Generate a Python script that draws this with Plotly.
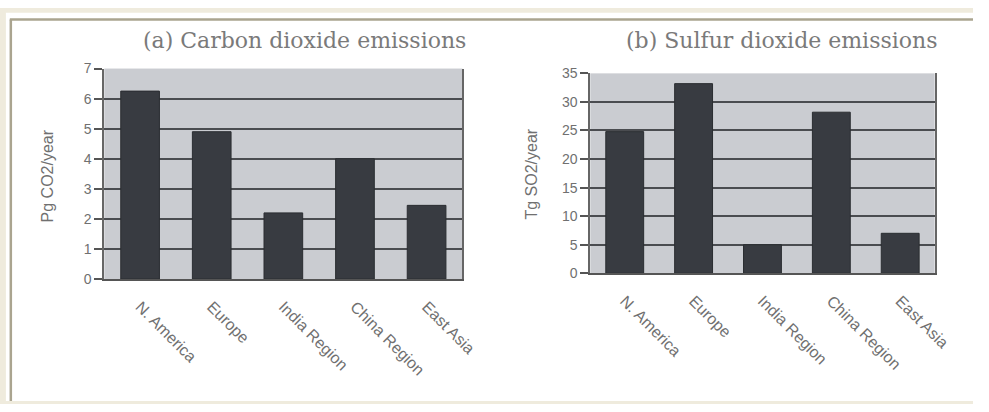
import plotly.graph_objects as go

W, H = 989, 412

regions = ["N. America", "Europe", "India Region", "China Region", "East Asia"]
co2_values = [6.25, 4.9, 2.2, 4.0, 2.45]
so2_values = [24.8, 33.2, 5.0, 28.2, 7.0]
co2_ticks = [0, 1, 2, 3, 4, 5, 6, 7]
so2_ticks = [0, 5, 10, 15, 20, 25, 30, 35]

title_a = "(a) Carbon dioxide emissions"
title_b = "(b) Sulfur dioxide emissions"
ytitle_a = "Pg CO2/year"
ytitle_b = "Tg SO2/year"

BAR = "#383b41"
PLOTBG = "#caccd1"
GRID = "#4a4c50"
TXT = "#707070"
BEIGE = "#efebdd"
KHAKI = "#aaa48f"


def px_x(v):
    return v / W


def px_y(v):
    return 1 - v / H


fig = go.Figure()
fig.add_trace(go.Bar(x=regions, y=co2_values, xaxis="x", yaxis="y",
                     marker=dict(color=BAR, line=dict(color="#2a2d31", width=1)),
                     width=0.54, showlegend=False))
fig.add_trace(go.Bar(x=regions, y=so2_values, xaxis="x2", yaxis="y2",
                     marker=dict(color=BAR, line=dict(color="#2a2d31", width=1)),
                     width=0.55, showlegend=False))

xcommon = dict(type="category", range=[-0.5, 4.5], tickangle=45,
               tickfont=dict(family="Liberation Sans, Arial", size=16, color=TXT),
               ticklabelstandoff=10,
               showgrid=False, showline=True, linecolor="#555", linewidth=2,
               mirror=False, ticks="", zeroline=False)
ycommon = dict(showgrid=True, gridcolor=GRID, gridwidth=2,
               showline=True, linecolor="#666", linewidth=2, mirror=True,
               ticks="outside", ticklen=8, tickcolor="#555", tickwidth=1.5,
               tickfont=dict(family="Liberation Sans, Arial", size=14, color=TXT),
               zeroline=False)

fig.update_layout(
    width=W, height=H,
    margin=dict(l=0, r=0, t=0, b=0),
    paper_bgcolor="white",
    plot_bgcolor=PLOTBG,
    xaxis=dict(**xcommon, domain=[px_x(106), px_x(470)], anchor="y"),
    yaxis=dict(**ycommon, domain=[px_y(282), px_y(63)], range=[0, 7],
               tickvals=co2_ticks, anchor="x"),
    xaxis2=dict(**xcommon, domain=[px_x(600), px_x(950)], anchor="y2"),
    yaxis2=dict(**ycommon, domain=[px_y(276), px_y(68)], range=[0, 35],
                tickvals=so2_ticks, anchor="x2"),
    shapes=[
        dict(type="rect", xref="paper", yref="paper", layer="below",
             x0=0, x1=1, y0=px_y(5), y1=1,
             fillcolor=BEIGE, line=dict(width=0)),
        dict(type="rect", xref="paper", yref="paper", layer="below",
             x0=0, x1=px_x(6), y0=0, y1=1,
             fillcolor=BEIGE, line=dict(width=0)),
        dict(type="rect", xref="paper", yref="paper", layer="below",
             x0=0, x1=1, y0=0, y1=px_y(409),
             fillcolor=BEIGE, line=dict(width=0)),
        dict(type="line", xref="paper", yref="paper", layer="below",
             x0=px_x(10), x1=1, y0=px_y(12), y1=px_y(12),
             line=dict(color=KHAKI, width=2.5)),
        dict(type="line", xref="paper", yref="paper", layer="below",
             x0=px_x(11), x1=px_x(11), y0=px_y(12), y1=px_y(409),
             line=dict(color=KHAKI, width=2.5)),
    ],
    annotations=[
        dict(text=title_a, xref="paper", yref="paper", x=px_x(310), y=px_y(34),
             showarrow=False, xanchor="center", yanchor="middle",
             font=dict(family="DejaVu Serif", size=22, color="#7a7a7a")),
        dict(text=title_b, xref="paper", yref="paper", x=px_x(794), y=px_y(34),
             showarrow=False, xanchor="center", yanchor="middle",
             font=dict(family="DejaVu Serif", size=22, color="#7a7a7a")),
        dict(text=ytitle_a, xref="paper", yref="paper", x=px_x(48), y=px_y(175),
             showarrow=False, textangle=-90, xanchor="center", yanchor="middle",
             font=dict(family="Liberation Sans, Arial", size=16, color=TXT)),
        dict(text=ytitle_b, xref="paper", yref="paper", x=px_x(540), y=px_y(173),
             showarrow=False, textangle=-90, xanchor="center", yanchor="middle",
             font=dict(family="Liberation Sans, Arial", size=16, color=TXT)),
    ],
)

post = (
    "var s=document.createElement('style');"
    "s.innerHTML='html,body{margin:0;padding:0;overflow:hidden;}"
    ".plotly-graph-div{position:absolute;left:0;top:0;}';"
    "document.head.appendChild(s);"
    "var gd=document.getElementById('{plot_id}');"
    "var ww=document.documentElement.clientWidth||window.innerWidth;"
    "var hh=document.documentElement.clientHeight||window.innerHeight;"
    "if(ww>0&&hh>0&&(ww!==%d||hh!==%d)){Plotly.relayout(gd,{width:ww,height:hh});}"
    % (W, H)
)

fig.write_html("out.html",
               config={"displayModeBar": False, "responsive": False},
               post_script=post)
